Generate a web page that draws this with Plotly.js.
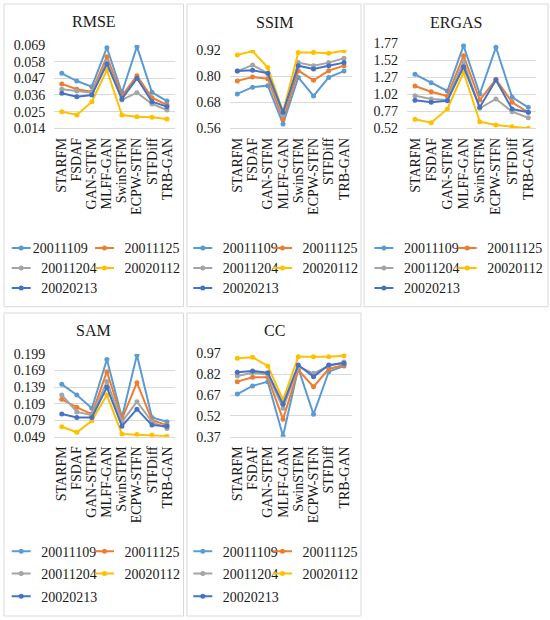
<!DOCTYPE html>
<html><head><meta charset="utf-8">
<script src="https://cdn.plot.ly/plotly-3.0.1.min.js"></script>
<style>
html,body{margin:0;padding:0;background:#fff;}
#chart{width:550px;height:620px;}
#chart text{font-family:'Liberation Serif' !important;}
.legendlines path.js-line{d:path('M10.5,0h19');}
.legendtext{transform:translateX(-8.5px);}
</style></head><body><div id="chart"></div>
<script>
// ---------- data ----------
const categories = ["STARFM","FSDAF","GAN-STFM","MLFF-GAN","SwinSTFM","ECPW-STFN","STFDiff","TRB-GAN"];
const seriesNames = ["20011109","20011125","20011204","20020112","20020213"];

const rmse_20011109 = [0.0503,0.0452,0.0415,0.0672,0.0375,0.0679,0.0378,0.0320];
const rmse_20011125 = [0.0433,0.0398,0.0382,0.0613,0.0355,0.0487,0.0342,0.0294];
const rmse_20011204 = [0.0398,0.0386,0.0375,0.0580,0.0327,0.0375,0.0301,0.0261];
const rmse_20020112 = [0.0250,0.0228,0.0316,0.0525,0.0228,0.0217,0.0213,0.0202];
const rmse_20020213 = [0.0371,0.0349,0.0360,0.0565,0.0334,0.0470,0.0316,0.0283];
const rmseTicks = [0.014,0.025,0.036,0.047,0.058,0.069];
const rmseTickLabels = ["0.014","0.025","0.036","0.047","0.058","0.069"];

const ssim_20011109 = [0.718,0.749,0.756,0.580,0.794,0.709,0.794,0.823];
const ssim_20011125 = [0.778,0.796,0.788,0.601,0.825,0.781,0.825,0.848];
const ssim_20011204 = [0.823,0.851,0.813,0.621,0.862,0.848,0.862,0.882];
const ssim_20020112 = [0.897,0.915,0.839,0.636,0.908,0.909,0.905,0.917];
const ssim_20020213 = [0.823,0.827,0.813,0.634,0.848,0.833,0.848,0.862];
const ssimTicks = [0.56,0.68,0.80,0.92];
const ssimTickLabels = ["0.56","0.68","0.80","0.92"];

const ergas_20011109 = [1.314,1.191,1.069,1.735,1.024,1.711,0.976,0.829];
const ergas_20011125 = [1.142,1.058,0.995,1.588,0.936,1.240,0.902,0.755];
const ergas_20011204 = [0.999,0.951,0.936,1.500,0.814,0.951,0.764,0.676];
const ergas_20020112 = [0.652,0.602,0.804,1.344,0.617,0.569,0.544,0.520];
const ergas_20020213 = [0.932,0.902,0.926,1.426,0.829,1.230,0.804,0.755];
const ergasTicks = [0.52,0.77,1.02,1.27,1.52,1.77];
const ergasTickLabels = ["0.52","0.77","1.02","1.27","1.52","1.77"];

const sam_20011109 = [0.144,0.1246,0.1005,0.189,0.084,0.197,0.084,0.076];
const sam_20011125 = [0.1168,0.1023,0.090,0.167,0.081,0.147,0.079,0.070];
const sam_20011204 = [0.1246,0.094,0.088,0.149,0.076,0.1124,0.076,0.064];
const sam_20020112 = [0.067,0.057,0.078,0.1246,0.054,0.053,0.052,0.050];
const sam_20020213 = [0.090,0.084,0.084,0.1386,0.068,0.099,0.070,0.068];
const samTicks = [0.049,0.079,0.109,0.139,0.169,0.199];
const samTickLabels = ["0.049","0.079","0.109","0.139","0.169","0.199"];

const cc_20011109 = [0.677,0.735,0.766,0.375,0.862,0.531,0.838,0.879];
const cc_20011125 = [0.766,0.797,0.797,0.495,0.850,0.730,0.857,0.886];
const cc_20011204 = [0.807,0.830,0.819,0.574,0.874,0.826,0.879,0.907];
const cc_20020112 = [0.934,0.941,0.879,0.634,0.946,0.946,0.946,0.953];
const cc_20020213 = [0.833,0.843,0.830,0.603,0.886,0.802,0.886,0.898];
const ccTicks = [0.37,0.52,0.67,0.82,0.97];
const ccTickLabels = ["0.37","0.52","0.67","0.82","0.97"];

const panelTitles = ["RMSE","SSIM","ERGAS","SAM","CC"];

// ---------- tables built from the data ----------
const panels = [
  {title:panelTitles[0], series:[rmse_20011109,rmse_20011125,rmse_20011204,rmse_20020112,rmse_20020213], ticks:rmseTicks, labels:rmseTickLabels},
  {title:panelTitles[1], series:[ssim_20011109,ssim_20011125,ssim_20011204,ssim_20020112,ssim_20020213], ticks:ssimTicks, labels:ssimTickLabels},
  {title:panelTitles[2], series:[ergas_20011109,ergas_20011125,ergas_20011204,ergas_20020112,ergas_20020213], ticks:ergasTicks, labels:ergasTickLabels},
  {title:panelTitles[3], series:[sam_20011109,sam_20011125,sam_20011204,sam_20020112,sam_20020213], ticks:samTicks, labels:samTickLabels},
  {title:panelTitles[4], series:[cc_20011109,cc_20011125,cc_20011204,cc_20020112,cc_20020213], ticks:ccTicks, labels:ccTickLabels}
];

// ---------- styles & layout geometry (px in the 550x620 page) ----------
const colors = ["#5B9BD5","#ED7D31","#A5A5A5","#FFC000","#4472C4"];
const FONT = "Liberation Serif";
const TXT = "#1a1a1a";
const W = 550, H = 620;
const fx = p => p / W, fy = p => 1 - p / H;
const rowTop = [248.3,268.3,288.3], rowBot = [551.7,574,596.7];
const geom = [
  {box:[4,4,183.5,306.7],   plot:[54.3,174.5,45,128.3],    title:[93.5,21.5], legX:[11.7,95],     legY:rowTop},
  {box:[187,4,361,306.7],   plot:[229.7,351.6,50,128.3],   title:[274,22.5],  legX:[193.3,273],   legY:rowTop},
  {box:[364,4,548,306.7],   plot:[406.9,536.4,43.3,128.3], title:[456,22],    legX:[374.4,457.7], legY:rowTop},
  {box:[4,313,183.5,616],   plot:[54.3,174.5,354,436.7],   title:[93.5,330.5],legX:[11.7,95],     legY:rowBot},
  {box:[187,313,361,616],   plot:[229.7,351.6,353.3,436.7],title:[274,330],   legX:[193.3,273],   legY:rowBot}
];

const traces = [];
const layout = {
  width: W, height: H,
  margin: {l:0, r:0, t:0, b:0},
  paper_bgcolor: "#fff", plot_bgcolor: "#fff",
  font: {family: FONT, size: 14, color: TXT},
  showlegend: true,
  shapes: [], annotations: []
};

panels.forEach((pn, p) => {
  const g = geom[p];
  const sfx = p === 0 ? "" : String(p + 1);
  layout["xaxis" + sfx] = {
    domain: [fx(g.plot[0]), fx(g.plot[1])], anchor: "y" + sfx,
    type: "category", tickmode: "array", tickvals: categories, ticktext: categories,
    range: [-0.5, categories.length - 0.5], tickangle: -90,
    showgrid: false, zeroline: false, showline: true, linecolor: "#d9d9d9", linewidth: 1,
    ticks: "", ticklabelstandoff: 3, tickfont: {family: FONT, size: 14, color: TXT}, fixedrange: true
  };
  layout["yaxis" + sfx] = {
    domain: [fy(g.plot[3]), fy(g.plot[2])], anchor: "x" + sfx,
    range: [pn.ticks[0], pn.ticks[pn.ticks.length - 1]],
    tickmode: "array", tickvals: pn.ticks, ticktext: pn.labels,
    showgrid: true, gridcolor: "#d9d9d9", gridwidth: 1, zeroline: false, showline: false,
    ticks: "", ticklabelstandoff: 8, tickfont: {family: FONT, size: 14, color: TXT}, fixedrange: true
  };
  layout.shapes.push({type: "rect", xref: "paper", yref: "paper",
    x0: fx(g.box[0]), x1: fx(g.box[2]), y0: fy(g.box[3]), y1: fy(g.box[1]),
    line: {color: "#d9d9d9", width: 1}, fillcolor: "rgba(0,0,0,0)", layer: "below"});
  layout.annotations.push({text: pn.title, xref: "paper", yref: "paper",
    x: fx(g.title[0]), y: fy(g.title[1]), xanchor: "center", yanchor: "middle",
    showarrow: false, font: {family: FONT, size: 16, color: TXT}});

  pn.series.forEach((vals, j) => {
    const k = p * 5 + j;
    const lid = k === 0 ? "legend" : "legend" + (k + 1);
    traces.push({
      type: "scatter", mode: "lines+markers",
      x: categories, y: vals, name: seriesNames[j],
      xaxis: "x" + sfx, yaxis: "y" + sfx, legend: lid,
      line: {color: colors[j], width: 2},
      marker: {color: colors[j], size: 5},
      hoverinfo: "skip"
    });
    // legend line starts 10.5 px into the entry (see CSS), so shift the box left by that
    layout[lid] = {
      x: fx(g.legX[j % 2] - 10.5), y: fy(g.legY[Math.floor(j / 2)]),
      xref: "paper", yref: "paper", xanchor: "left", yanchor: "middle",
      orientation: "v", bgcolor: "rgba(0,0,0,0)", borderwidth: 0, itemwidth: 30,
      font: {family: FONT, size: 14, color: TXT}
    };
  });
});

Plotly.newPlot("chart", traces, layout, {displayModeBar: false});
</script>
</body></html>
